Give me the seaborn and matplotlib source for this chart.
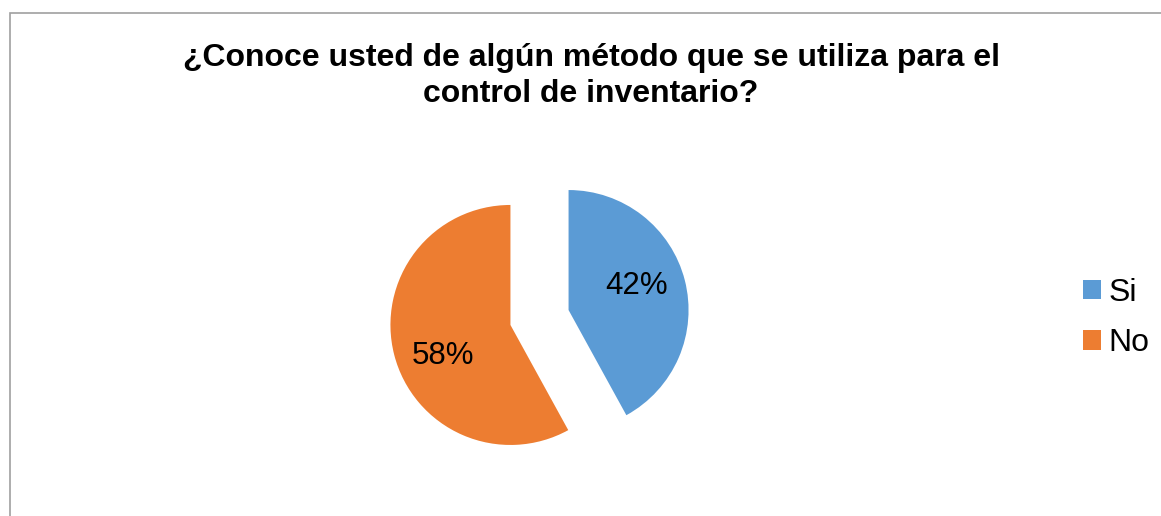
import matplotlib
matplotlib.use("Agg")
import matplotlib.pyplot as plt
import numpy as np
import seaborn as sns
from matplotlib.patches import Rectangle

# Datos / data
categorias = ["Si", "No"]
valores = [42, 58]
colores = ["#5B9BD5", "#ED7D31"]
titulo = "¿Conoce usted de algún método que se utiliza para el\ncontrol de inventario?"

sns.set_theme(style="white")
plt.rcParams['font.family'] = ['Liberation Sans', 'DejaVu Sans']
plt.rcParams['text.color'] = 'black'

W, H = 1161, 516
fig = plt.figure(figsize=(W / 100, H / 100), dpi=100)

# Marco gris del gráfico
fig.patches.append(Rectangle((9.5 / W, -0.5), 2.0, 0.5 + 1 - 13 / H,
                             transform=fig.transFigure, fill=False,
                             edgecolor="#A0A0A0", linewidth=1.2))

# Ejes cuadrados centrados en el pastel
cx, cy, r = 539.5, 317.5, 120
half = 1.5 * r
ax = fig.add_axes([(cx - half) / W, (H - cy - half) / H, 2 * half / W, 2 * half / H])

wedges, texts, autotexts = ax.pie(
    valores, colors=colores, startangle=90, counterclock=False,
    explode=[0.25, 0.25], autopct='%1.0f%%', pctdistance=0.62,
    wedgeprops=dict(linewidth=0), textprops=dict(fontsize=22.5, color="black"))

# Etiquetas un poco giradas respecto a la bisectriz (como en Excel)
for w, t in zip(wedges, autotexts):
    ang = np.deg2rad((w.theta1 + w.theta2) / 2 + 8)
    t.set_position((w.center[0] + 0.61 * np.cos(ang), w.center[1] + 0.61 * np.sin(ang) - 0.03))

ax.set_xlim(-1.5, 1.5)
ax.set_ylim(-1.5, 1.5)
ax.set_aspect('equal')
ax.axis('off')

fig.text(591 / W, 1 - 76 / H, titulo, ha='center', va='center',
         fontsize=23, fontweight='bold', linespacing=1.3, color='black')

fig.legend(wedges, categorias, loc='center left',
           bbox_to_anchor=(1083 / W, 1 - 318 / H), frameon=False,
           fontsize=23, handlelength=0.55, handleheight=0.55,
           handletextpad=0.25, labelspacing=0.65, borderpad=0, borderaxespad=0)

plt.savefig("out.png", dpi=100)
